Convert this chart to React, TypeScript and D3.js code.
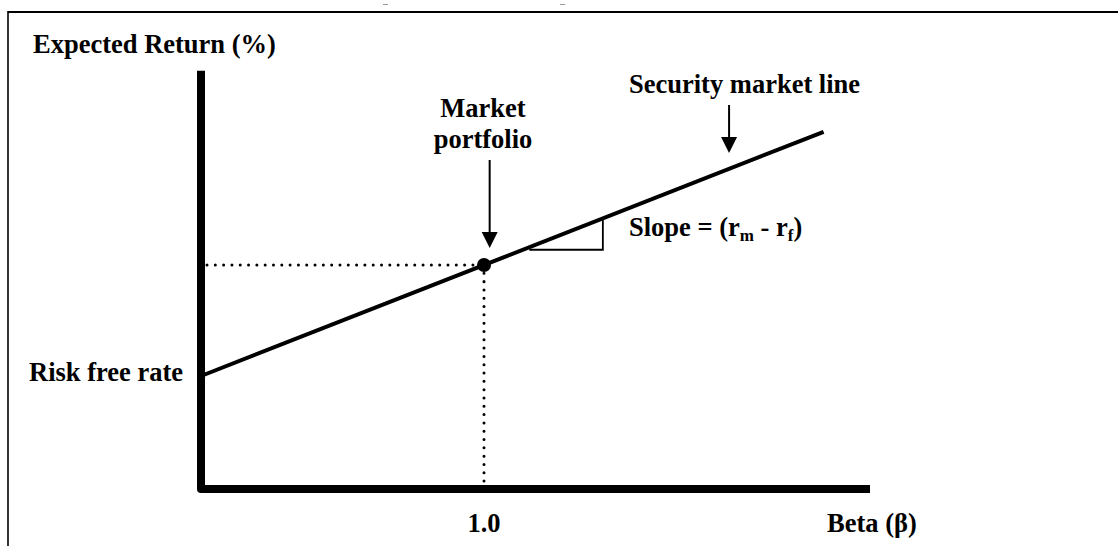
import React from "react";
import * as d3 from "d3";

// ---- data ----
const riskFreeRate = 4; // % (illustrative)
const marketReturn = 8; // %
const marketBeta = 1.0;
const smlBetaRange = [0, 2.2];
const xTickLabels = ["1.0"];
const xTickValues = [1.0];
const slopeTriangleBeta = [1.16, 1.42];
const axisBetaMax = 2.364;
const axisReturnMax = 15;

const FONT = "'Liberation Serif', 'Times New Roman', Times, serif";

export default function App() {
  const W = 1118;
  const H = 546;
  const x = d3.scaleLinear().domain([0, 1]).range([201, 484]);
  const y = d3.scaleLinear().domain([0, 15]).range([487, 487 - 15 * 27.75]);
  const sml = (b: number) => riskFreeRate + (marketReturn - riskFreeRate) * b;

  const line = d3
    .line<number>()
    .x((b) => x(b))
    .y((b) => y(sml(b)));

  const mx = x(marketBeta);
  const my = y(marketReturn);
  const [tb0, tb1] = slopeTriangleBeta;
  const triY = y(sml(tb0)) + 2.5;

  const arrow = (ax: number, y0: number, y1: number) => (
    <g>
      <line x1={ax} x2={ax} y1={y0} y2={y1 - 14} stroke="#000" strokeWidth={2} />
      <path d={`M${ax - 8},${y1 - 16} L${ax + 8},${y1 - 16} L${ax},${y1} Z`} fill="#000" />
    </g>
  );

  const smlArrowX = x(1.866);
  const mktArrowX = x(1.02);

  const textStyle = {
    fontFamily: FONT,
    fontWeight: 700,
    fontSize: 26.5,
    fill: "#000",
  } as const;

  return (
    <svg
      width={W}
      height={H}
      style={{ position: "absolute", left: 0, top: 0, background: "#fff" }}
    >
      <rect x={0} y={0} width={W} height={H} fill="#fff" />
      {/* frame */}
      <line x1={8} x2={W} y1={12} y2={12} stroke="#000" strokeWidth={2.2} />
      <line x1={8} x2={8} y1={11} y2={H} stroke="#000" strokeWidth={1.6} />
      {/* tiny remnants at top */}
      <line x1={383} x2={388} y1={4.5} y2={4.5} stroke="#999" strokeWidth={1} />
      <line x1={560} x2={565} y1={4.5} y2={4.5} stroke="#999" strokeWidth={1} />

      {/* dotted guides */}
      <line
        x1={x(0) + 6}
        x2={mx}
        y1={my}
        y2={my}
        stroke="#000"
        strokeWidth={3}
        strokeLinecap="round"
        strokeDasharray="0.01 8.3"
      />
      <line
        x1={mx}
        x2={mx}
        y1={my}
        y2={y(0) - 4}
        stroke="#000"
        strokeWidth={3}
        strokeLinecap="round"
        strokeDasharray="0.01 8.3"
      />

      {/* axes */}
      <path
        d={`M${x(0)},${y(axisReturnMax)} L${x(0)},${y(0) + 2} L${x(axisBetaMax)},${y(0) + 2}`}
        fill="none"
        stroke="#000"
        strokeWidth={8}
        strokeLinejoin="round"
      />

      {/* SML */}
      <path d={line(smlBetaRange) || ""} fill="none" stroke="#000" strokeWidth={4} />

      {/* slope triangle */}
      <path
        d={`M${x(tb0)},${triY} L${x(tb1)},${triY} L${x(tb1)},${y(sml(tb1))}`}
        fill="none"
        stroke="#000"
        strokeWidth={1.8}
      />

      {/* market point */}
      <circle cx={mx} cy={my} r={7} fill="#000" />

      {/* arrows */}
      {arrow(mktArrowX, 160, 248)}
      {arrow(smlArrowX, 105, 153)}

      {/* labels */}
      <text x={33} y={53} style={textStyle}>Expected Return (%)</text>
      <text x={629} y={93} style={textStyle}>Security market line</text>
      <text x={483} y={117} textAnchor="middle" style={textStyle}>Market</text>
      <text x={483} y={148} textAnchor="middle" style={textStyle}>portfolio</text>
      <text x={629} y={236} style={textStyle}>
        Slope = (r
        <tspan fontSize={17} dy={5}>m</tspan>
        <tspan dy={-5}> - r</tspan>
        <tspan fontSize={17} dy={5}>f</tspan>
        <tspan dy={-5}>)</tspan>
      </text>
      <text x={29} y={381} style={textStyle}>Risk free rate</text>
      {xTickValues.map((v, i) => (
        <text key={i} x={x(v)} y={532} textAnchor="middle" style={textStyle}>
          {xTickLabels[i]}
        </text>
      ))}
      <text x={827} y={532} style={textStyle}>Beta (β)</text>
    </svg>
  );
}
